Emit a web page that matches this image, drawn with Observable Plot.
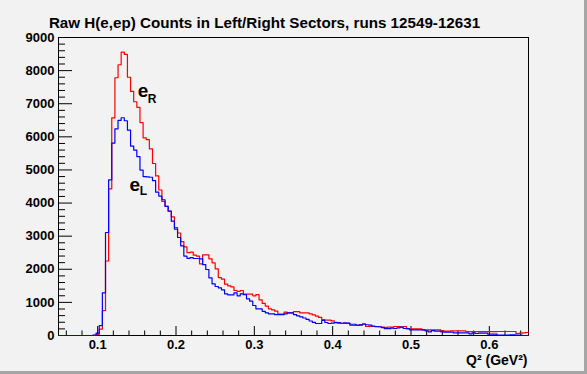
<!DOCTYPE html>
<html><head><meta charset="utf-8">
<script src="https://cdn.jsdelivr.net/npm/d3@7"></script>
<script src="https://cdn.jsdelivr.net/npm/@observablehq/plot@0.6"></script>
<style>
html,body{margin:0;padding:0;background:#f2f2f2;}
#wrap{position:relative;width:587px;height:374px;overflow:hidden;background:#f2f2f2;}
#wrap svg{position:absolute;left:0;top:0;}
.shade-r{position:absolute;right:0;top:0;width:3px;height:374px;background:#a6a6a6;}
.shade-b{position:absolute;left:0;bottom:0;width:587px;height:3px;background:#a6a6a6;}
</style></head><body><div id="wrap"><div class="shade-r"></div><div class="shade-b"></div></div>
<script>
// Histogram binning (Q^2 in GeV^2)
const binStart = 0.05;
const binWidth = 0.004;

// Right sector counts (red), 150 bins
const countsRight = [
  0,0,0,0,0,0,0,0,0,0,
  0,5,30,190,750,2250,4430,6575,7784,8177,
  8560,8490,7800,7370,7060,6890,6430,5970,5915,5637,
  5195,4818,4395,4050,3910,3750,3585,3262,3096,2835,
  2678,2500,2517,2426,2400,2165,2437,2437,2316,2195,
  2014,1750,1700,1550,1500,1470,1359,1335,1359,1248,
  1248,1248,1198,1233,1077,970,890,805,775,735,
  645,645,705,684,684,720,720,684,684,684,
  654,620,585,545,483,465,465,440,400,370,
  370,368,368,302,302,302,330,348,272,272,
  272,272,265,255,245,255,252,272,272,262,
  272,201,201,201,201,201,171,171,171,171,
  171,171,151,131,131,141,141,141,141,141,
  121,116,116,116,116,116,116,116,116,116,
  121,121,121,121,121,121,60,70,80,90
];

// Left sector counts (blue), 150 bins
const countsLeft = [
  0,0,0,0,0,0,0,0,0,0,
  0,10,70,300,1290,3110,4700,5810,6243,6495,
  6576,6485,6200,5720,5600,5405,4995,4800,4790,4780,
  4680,4330,4210,4100,3896,3760,3453,3210,2960,2708,
  2400,2330,2350,2325,2325,2316,2140,1994,1742,1560,
  1480,1440,1379,1258,1228,1228,1288,1198,1258,1233,
  1107,1037,906,805,805,730,684,654,654,630,
  630,630,654,684,684,630,595,565,528,488,
  438,398,362,362,453,393,362,372,388,388,
  370,382,375,340,340,315,315,345,325,315,
  285,267,265,240,206,206,221,211,232,252,
  211,211,171,171,171,171,171,141,111,150,
  131,131,111,101,101,101,80,80,80,80,
  80,50,80,60,70,70,70,40,40,40,
  10,10,10,10,20,20,10,10,0,0
];

const xDomain = [0.05, 0.65];
const yDomain = [0, 9000];
const xMajorTicks = [0.1, 0.2, 0.3, 0.4, 0.5, 0.6];
const yMajorTicks = [0, 1000, 2000, 3000, 4000, 5000, 6000, 7000, 8000, 9000];
const xMinorTicks = d3.range(0.06, 0.6401, 0.02).filter(v => Math.abs(v * 10 - Math.round(v * 10)) > 1e-6);
const yMinorTicks = d3.range(0, 9001, 200).filter(v => v % 1000 !== 0);

const titleText = "Raw H(e,ep) Counts in Left/Right Sectors, runs 12549-12631";
const xAxisLabel = "Q\u00B2 (GeV\u00B2)";
const seriesLabels = [
  {main: "e", sub: "R", q2: 0.1512, count: 7188, subQ2: 0.1640, subCount: 7015},
  {main: "e", sub: "L", q2: 0.1406, count: 4379, subQ2: 0.1536, subCount: 4258}
];

function stepPoints(counts) {
  const pts = counts.map((c, k) => ({q2: binStart + k * binWidth, count: c}));
  pts.push({q2: binStart + counts.length * binWidth, count: counts[counts.length - 1]});
  return pts;
}

const FONT = "Liberation Sans, Arial, Helvetica, sans-serif";
const W = 587, H = 374;
const mL = 58, mR = 59, mT = 37, mB = 39;
const frameW = W - mL - mR, frameH = H - mT - mB;

const chart = Plot.plot({
  width: W, height: H,
  marginLeft: mL, marginRight: mR, marginTop: mT, marginBottom: mB,
  style: {background: "transparent", fontFamily: FONT, color: "black", overflow: "visible"},
  x: {domain: xDomain},
  y: {domain: yDomain},
  marks: [
    Plot.frame({stroke: "black", strokeWidth: 1}),
    // inward ticks
    Plot.tickY(yMajorTicks, {y: d => d, stroke: "black", insetRight: frameW - 14}),
    Plot.tickY(yMinorTicks, {y: d => d, stroke: "black", insetRight: frameW - 7}),
    Plot.tickX(xMajorTicks, {x: d => d, stroke: "black", insetTop: frameH - 9}),
    Plot.tickX(xMinorTicks, {x: d => d, stroke: "black", insetTop: frameH - 4.5}),
    Plot.axisY({ticks: yMajorTicks, tickSize: 0, tickPadding: 4, tickFormat: d => String(d), label: null,
      fontSize: 13, fontWeight: "bold", fontFamily: FONT}),
    Plot.axisX({ticks: xMajorTicks, tickSize: 0, tickPadding: 4, tickFormat: d => String(d), label: null,
      fontSize: 13, fontWeight: "bold", fontFamily: FONT}),
    Plot.line(stepPoints(countsRight), {x: "q2", y: "count", curve: "step-after", stroke: "#ff0000", strokeWidth: 1.2}),
    Plot.line(stepPoints(countsLeft), {x: "q2", y: "count", curve: "step-after", stroke: "#0000ff", strokeWidth: 1.2}),
    Plot.text(seriesLabels, {x: "q2", y: "count", text: "main", textAnchor: "start", lineAnchor: "bottom",
      fontSize: 19, fontWeight: "bold", fontFamily: FONT, fill: "black"}),
    Plot.text(seriesLabels, {x: "subQ2", y: "subCount", text: "sub", textAnchor: "start", lineAnchor: "bottom",
      fontSize: 12, fontWeight: "bold", fontFamily: FONT, fill: "black"}),
    Plot.text([titleText], {frameAnchor: "top", dx: -29, dy: -10, textAnchor: "middle", lineAnchor: "bottom",
      fontSize: 15.2, fontWeight: "bold", fontFamily: FONT, fill: "black"}),
    Plot.text([xAxisLabel], {frameAnchor: "bottom-right", dx: -1, dy: 29, textAnchor: "end", lineAnchor: "bottom",
      fontSize: 14, fontWeight: "bold", fontFamily: FONT, fill: "black"})
  ]
});
document.getElementById("wrap").prepend(chart);
</script></body></html>
